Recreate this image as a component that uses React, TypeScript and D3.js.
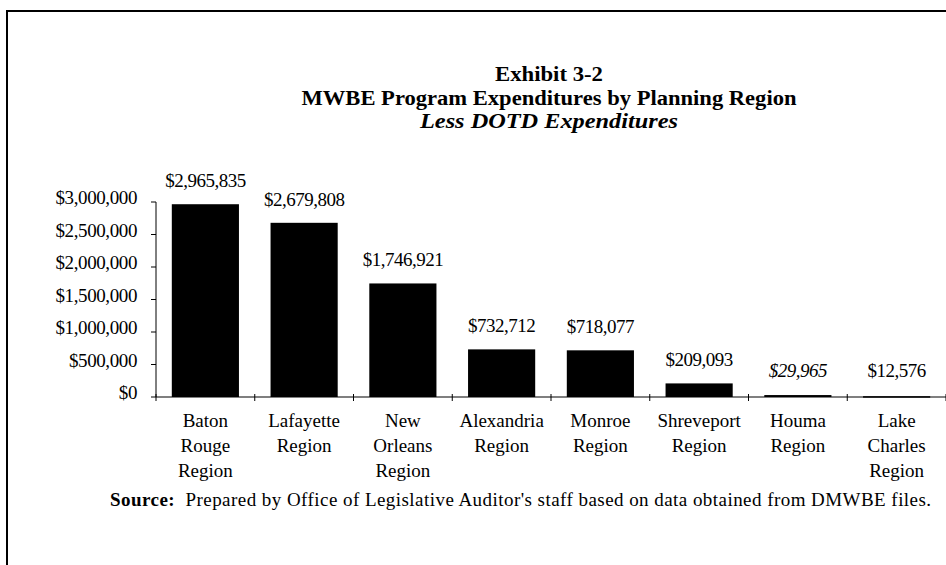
import React from "react";
import * as d3 from "d3";

const categories: string[][] = [
  ["Baton", "Rouge", "Region"],
  ["Lafayette", "Region"],
  ["New", "Orleans", "Region"],
  ["Alexandria", "Region"],
  ["Monroe", "Region"],
  ["Shreveport", "Region"],
  ["Houma", "Region"],
  ["Lake", "Charles", "Region"],
];
const values: number[] = [2965835, 2679808, 1746921, 732712, 718077, 209093, 29965, 12576];
const yTicks: number[] = [0, 500000, 1000000, 1500000, 2000000, 2500000, 3000000];
const titleLines: string[] = [
  "Exhibit 3-2",
  "MWBE Program Expenditures by Planning Region",
  "Less DOTD Expenditures",
];
const sourceLabel = "Source:";
const sourceText = "  Prepared by Office of Legislative Auditor's staff based on data obtained from DMWBE files.";

const W = 946;
const H = 565;
const FONT = "'Liberation Serif', 'Times New Roman', serif";

export default function App() {
  const x0 = 156;
  const x1 = 946;
  const yTop = 202;
  const yBase = 397;
  const keys = values.map((_, i) => String(i));
  const x = d3.scaleBand<string>().domain(keys).range([x0, x1]).paddingInner(0.32).paddingOuter(0.16);
  const y = d3.scaleLinear().domain([0, 3000000]).range([yBase, yTop]);
  const fmt = d3.format("$,.0f");
  const step = x.step();
  const boundaries = d3.range(values.length + 1).map((i) => x0 + i * step);
  const titleWidths = [108, 495, 258];

  return (
    <svg
      width={W}
      height={H}
      style={{ position: "absolute", left: 0, top: 0, background: "#fff" }}
      fontFamily={FONT}
    >
      <rect x={0} y={0} width={W} height={H} fill="#fff" />
      {/* frame */}
      <line x1={6} x2={W} y1={11} y2={11} stroke="#000" strokeWidth={2} />
      <line x1={7} x2={7} y1={10} y2={H} stroke="#000" strokeWidth={2} />

      {/* title */}
      {titleLines.map((t, i) => (
        <text
          key={i}
          x={549}
          y={81 + i * 23.5}
          textAnchor="middle"
          fontWeight="bold"
          fontStyle={i === 2 ? "italic" : "normal"}
          fontSize={20}
          textLength={titleWidths[i]}
          lengthAdjust="spacingAndGlyphs"
        >
          {t}
        </text>
      ))}

      {/* y axis */}
      <line x1={x0} x2={x0} y1={yTop} y2={yBase} stroke="#000" strokeWidth={1} />
      {yTicks.map((t) => (
        <g key={t}>
          <line x1={x0 - 5} x2={x0} y1={y(t)} y2={y(t)} stroke="#000" />
          <text x={137} y={y(t) + 2} textAnchor="end" fontSize={19} letterSpacing={-0.4}>
            {fmt(t)}
          </text>
        </g>
      ))}

      {/* bars */}
      {values.map((v, i) => (
        <rect
          key={i}
          x={x(String(i))}
          y={y(v)}
          width={x.bandwidth()}
          height={Math.max(yBase - y(v), 1.5)}
          fill="#000"
        />
      ))}

      {/* x axis */}
      <line x1={x0} x2={x1} y1={yBase} y2={yBase} stroke="#000" strokeWidth={1.2} />
      {boundaries.map((b, i) => (
        <line key={i} x1={b} x2={b} y1={yBase - 3} y2={yBase + 4} stroke="#000" />
      ))}

      {/* value labels */}
      {values.map((v, i) => {
        const cx = (x(String(i)) as number) + x.bandwidth() / 2;
        return (
          <text
            key={i}
            x={cx}
            y={Math.min(y(v), yBase - 3) - 17}
            textAnchor="middle"
            fontSize={19}
            letterSpacing={-0.5}
            fontStyle={i === 6 ? "italic" : "normal"}
          >
            {fmt(v)}
          </text>
        );
      })}

      {/* category labels */}
      {categories.map((lines, i) => {
        const cx = (x(String(i)) as number) + x.bandwidth() / 2;
        return (
          <text key={i} x={cx} textAnchor="middle" fontSize={19}>
            {lines.map((l, j) => (
              <tspan key={j} x={cx} y={427 + j * 25}>
                {l}
              </tspan>
            ))}
          </text>
        );
      })}

      {/* source */}
      <text x={110} y={506} fontSize={19} letterSpacing={0.45} style={{ whiteSpace: "pre" }}>
        <tspan fontWeight="bold">{sourceLabel}</tspan>
        <tspan>{sourceText}</tspan>
      </text>
    </svg>
  );
}
